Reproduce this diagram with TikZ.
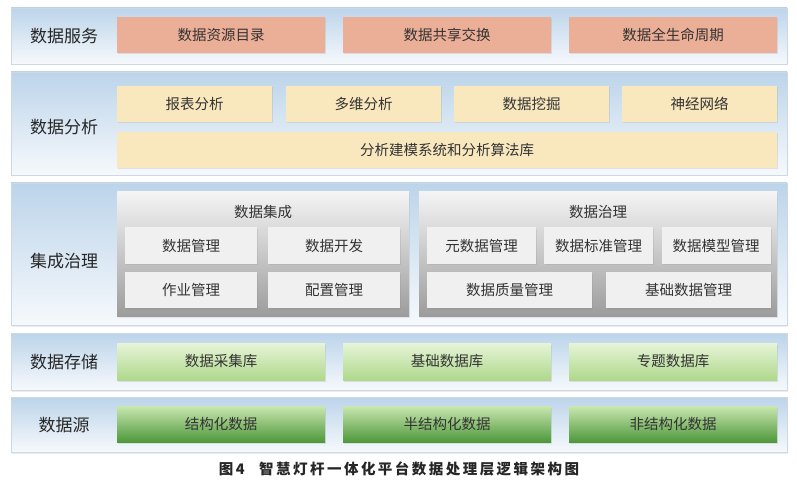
\documentclass[tikz,border=0pt]{standalone}
\usepackage{fontspec}
\setmainfont{Noto Sans CJK SC}
\usetikzlibrary{shadows}
\definecolor{bandtop}{HTML}{BCD4EA}
\definecolor{bandbot}{HTML}{F6F9FC}
\definecolor{bandline}{HTML}{CCD9E5}
\definecolor{svcfill}{HTML}{EBAE96}
\definecolor{anafill}{HTML}{F9E7BD}
\definecolor{paneltop}{HTML}{F4F4F4}
\definecolor{panelbot}{HTML}{9C9C9C}
\definecolor{subfill}{HTML}{F0F0F0}
\definecolor{storetop}{HTML}{E6F4D8}
\definecolor{storebot}{HTML}{AFD88C}
\definecolor{srctop}{HTML}{C8E6AE}
\definecolor{srcmid}{HTML}{6FB257}
\definecolor{srcbot}{HTML}{4C973A}
\definecolor{txt}{HTML}{333333}

\begin{document}
\begin{tikzpicture}[x=1pt,y=-1pt,
    every node/.style={inner sep=0pt, text=txt, font=\fontsize{14.5pt}{17pt}\selectfont},
    band/.style={draw=bandline, top color=bandtop, bottom color=bandbot, minimum width=776pt,
        drop shadow={opacity=0.15, shadow xshift=1pt, shadow yshift=-1.5pt}},
    layer/.style={font=\fontsize{17pt}{20pt}\selectfont, text=black!85},
    boxshadow/.style={drop shadow={opacity=0.18, shadow xshift=1pt, shadow yshift=-1.5pt}},
    svcbox/.style={boxshadow, fill=svcfill, minimum width=208pt, minimum height=36pt},
    anabox/.style={boxshadow, fill=anafill, minimum height=36pt},
    panel/.style={top color=paneltop, bottom color=panelbot, minimum height=124pt,
        drop shadow={opacity=0.15, shadow xshift=1pt, shadow yshift=-1.5pt}},
    subbox/.style={boxshadow, fill=subfill, minimum height=36pt},
    storebox/.style={boxshadow, top color=storetop, bottom color=storebot, minimum width=208pt, minimum height=37pt},
    srcbox/.style={boxshadow, top color=srctop, middle color=srcmid, bottom color=srcbot, minimum width=208pt, minimum height=36pt}]
    \useasboundingbox[fill=white] (0,0) rectangle (797,486);
    \node[band, minimum height=56pt] (svcband) at (399,36) {};
    \node[band, minimum height=103pt] (anaband) at (399,123.5) {};
    \node[band, minimum height=142pt] (govband) at (399,254) {};
    \node[band, minimum height=57pt] (storeband) at (399,361.5) {};
    \node[band, minimum height=55pt] (srcband) at (399,424.5) {};
    \node[layer] (svclabel) at (64,36) {数据服务};
    \node[layer] (analabel) at (64,127) {数据分析};
    \node[layer] (govlabel) at (64,261) {集成治理};
    \node[layer] (storelabel) at (64,362) {数据存储};
    \node[layer] (srclabel) at (64,425) {数据源};
    \node[svcbox] (svca) at (221,35) {数据资源目录};
    \node[svcbox] (svcb) at (447,35) {数据共享交换};
    \node[svcbox] (svcc) at (673,35) {数据全生命周期};
    \node[anabox, minimum width=155pt] (anaa) at (194.5,104) {报表分析};
    \node[anabox, minimum width=155pt] (anab) at (363.5,104) {多维分析};
    \node[anabox, minimum width=155pt] (anac) at (531.5,104) {数据挖掘};
    \node[anabox, minimum width=155pt] (anad) at (699.5,104) {神经网络};
    \node[anabox, minimum width=660pt] (anae) at (447,150) {分析建模系统和分析算法库};
    \node[panel, minimum width=292pt] (intpanel) at (263,254) {};
    \node[panel, minimum width=358pt] (govpanel) at (598,254) {};
    \node (inttitle) at (263,212) {数据集成};
    \node (govtitle) at (598,212) {数据治理};
    \node[subbox, minimum width=132pt] (inta) at (191,245.5) {数据管理};
    \node[subbox, minimum width=132pt] (intb) at (334,245.5) {数据开发};
    \node[subbox, minimum width=132pt] (intc) at (191,290) {作业管理};
    \node[subbox, minimum width=132pt] (intd) at (334,290) {配置管理};
    \node[subbox, minimum width=109pt] (gova) at (481.5,245.5) {元数据管理};
    \node[subbox, minimum width=109pt] (govb) at (598.5,245.5) {数据标准管理};
    \node[subbox, minimum width=109pt] (govc) at (716,245.5) {数据模型管理};
    \node[subbox, minimum width=165pt] (govd) at (509.5,290) {数据质量管理};
    \node[subbox, minimum width=165pt] (gove) at (688.5,290) {基础数据管理};
    \node[storebox] (storea) at (221,361.5) {数据采集库};
    \node[storebox] (storeb) at (447,361.5) {基础数据库};
    \node[storebox] (storec) at (673,361.5) {专题数据库};
    \node[srcbox] (srca) at (221,424.5) {结构化数据};
    \node[srcbox] (srcb) at (447,424.5) {半结构化数据};
    \node[srcbox] (srcc) at (673,424.5) {非结构化数据};
    \node[font=\fontsize{14.5pt}{16pt}\selectfont\bfseries\addfontfeature{LetterSpace=17}, text=black!85] (caption) at (399,469) {图4\hspace{1em}智慧灯杆一体化平台数据处理层逻辑架构图};
\end{tikzpicture}
\end{document}
